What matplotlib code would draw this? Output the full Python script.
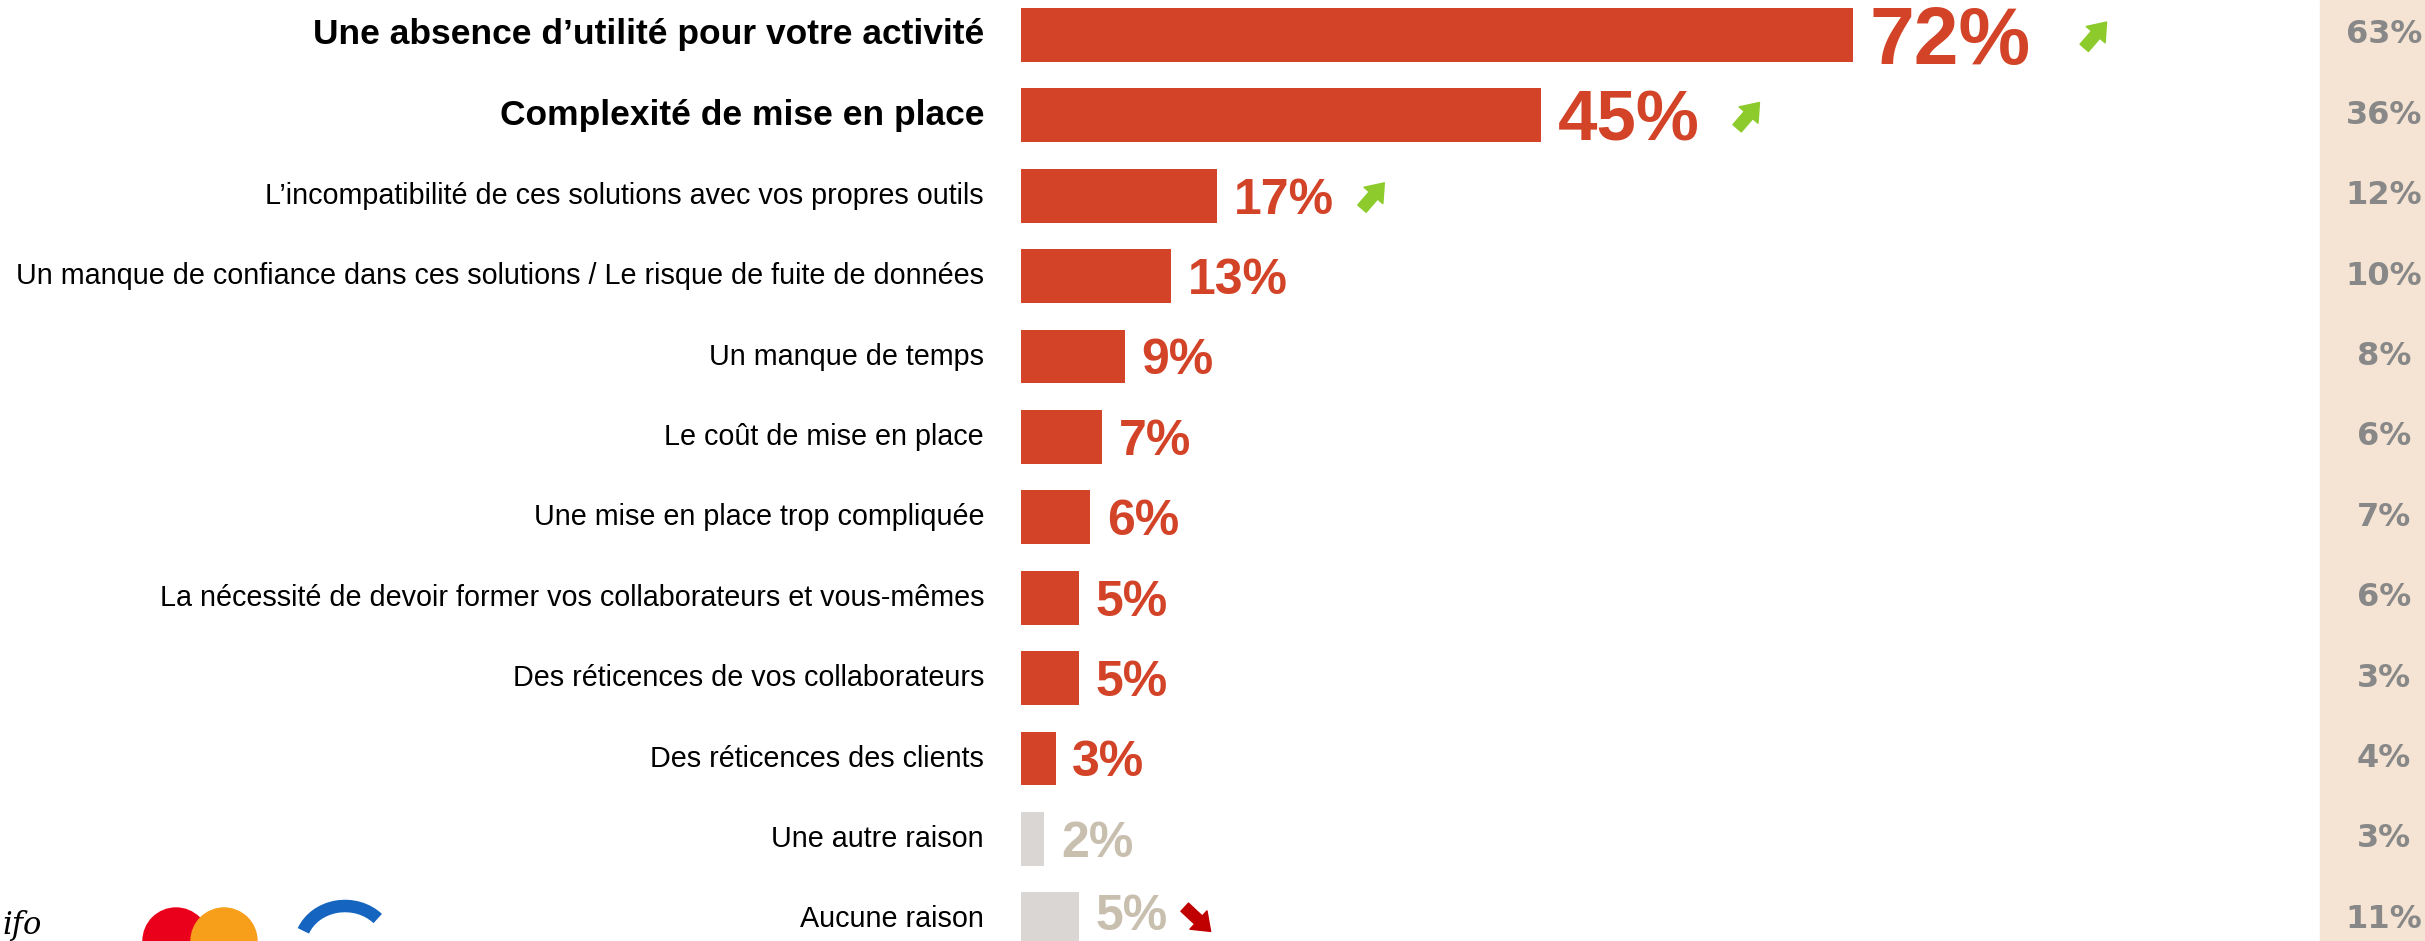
import matplotlib.pyplot as plt
import matplotlib.patches as mpatches
import matplotlib.transforms as mtransforms

# data
categories = [
    "Une absence d\u2019utilité pour votre activité",
    "Complexité de mise en place",
    "L\u2019incompatibilité de ces solutions avec vos propres outils",
    "Un manque de confiance dans ces solutions / Le risque de fuite de données",
    "Un manque de temps",
    "Le coût de mise en place",
    "Une mise en place trop compliquée",
    "La nécessité de devoir former vos collaborateurs et vous-mêmes",
    "Des réticences de vos collaborateurs",
    "Des réticences des clients",
    "Une autre raison",
    "Aucune raison",
]
values = [72, 45, 17, 13, 9, 7, 6, 5, 5, 3, 2, 5]
previous = [63, 36, 12, 10, 8, 6, 7, 6, 3, 4, 3, 11]
trend = ["up", "up", "up", "", "", "", "", "", "", "", "", "down"]

RED = "#D24327"
GREY_BAR = "#DAD6D3"
GREY_TXT = "#C8BFAF"

W, H = 2425, 941
fig = plt.figure(figsize=(W / 100, H / 100), dpi=100)

# axes placed so that x=0 sits at pixel 1021 and rows are ~80 px apart
ax = fig.add_axes([1021 / W, 0, 1155 / W, 1])
ax.set_xlim(0, 100)
ax.set_ylim(11.27, -0.435)
ax.axis("off")

rows = list(range(len(categories)))
colors = [RED] * 10 + [GREY_BAR] * 2
ax.barh(rows, values, height=0.67, color=colors)

lbl_tr = mtransforms.blended_transform_factory(fig.transFigure, ax.transData)
val_sizes = [58, 51] + [36] * 10
val_texts = []
for i in rows:
    bold = i < 2
    ax.text(984 / W, i, categories[i], transform=lbl_tr, ha="right", va="center",
            fontsize=25.5 if bold else 20.7, fontweight="bold" if bold else "normal",
            family="Liberation Sans", color="black")
    # baseline shifted so the digits sit centred on the bar
    t = ax.annotate(f"{values[i]}%", xy=(values[i], i),
                    xytext=(12, -0.358 * val_sizes[i]),
                    textcoords="offset points", ha="left", va="baseline",
                    fontsize=val_sizes[i], fontweight="bold", family="Liberation Sans",
                    color=RED if i < 10 else GREY_TXT)
    val_texts.append(t)

# beige panel with last wave values
fig.patches.append(mpatches.Rectangle((2320 / W, 0), (W - 2320) / W, 1,
                                      transform=fig.transFigure, color="#F5E4D3", zorder=-1))
for i in rows:
    ax.text(2384 / W, i, f"{previous[i]}%", transform=lbl_tr, ha="center", va="center",
            fontsize=23, fontweight="bold", family="DejaVu Sans", color="#888888")

fig.canvas.draw()
renderer = fig.canvas.get_renderer()

# keep the bottom value label inside the figure
for t in val_texts:
    bb = t.get_window_extent(renderer)
    if bb.y0 < 1:
        x, y = t.xyann
        t.xyann = (x, y + (1 - bb.y0) * 72 / 100)

# trend arrows after the value labels
gaps = {58: 52, 51: 36, 36: 26}
for i in rows:
    if not trend[i]:
        continue
    bb = val_texts[i].get_window_extent(renderer)
    yc = ax.transData.transform((0, i))[1]
    x0 = bb.x1 + gaps[val_sizes[i]] - (11 if trend[i] == "down" else 0)
    if trend[i] == "up":
        tail, tip, col = (x0, yc - 15), (x0 + 26, yc + 15), "#8DCB2C"
    else:
        tail, tip, col = (x0, yc + 14), (x0 + 30, yc - 14), "#C00000"
    fig.add_artist(mpatches.FancyArrowPatch(
        tail, tip, transform=None, color=col, mutation_scale=20,
        arrowstyle="simple,head_length=0.6,head_width=0.9,tail_width=0.4"))

# partial logos at the bottom left
fig.add_artist(mpatches.Circle((176, 0), 33, transform=None, color="#EB001B"))
fig.add_artist(mpatches.Circle((224, 0), 33, transform=None, color="#F79E1B"))
fig.add_artist(mpatches.Arc((345, -5), 90, 80, theta1=40, theta2=160,
                            transform=None, color="#1565C0", lw=9))
fig.text(2 / W, 0, "ifo", fontsize=22, style="italic", family="DejaVu Serif",
         color="black", va="bottom")

fig.savefig("out.png", dpi=100)
